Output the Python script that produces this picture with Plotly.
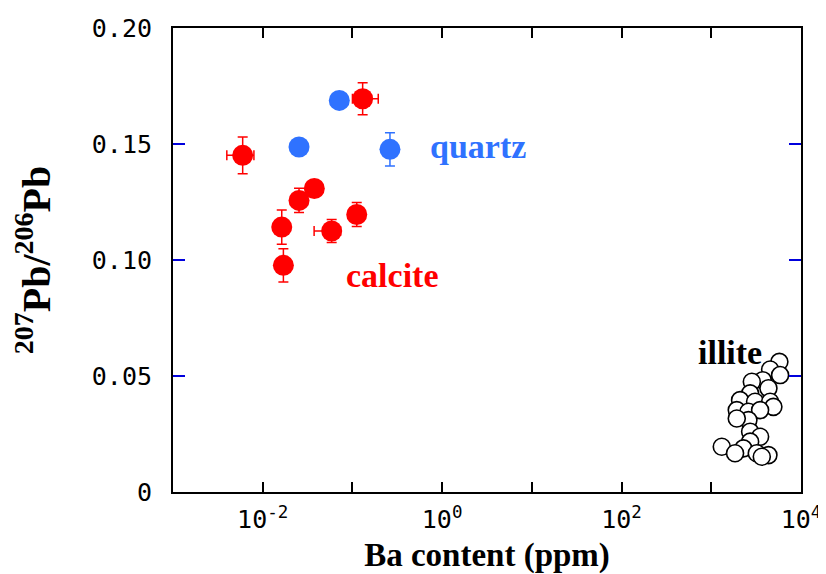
import plotly.graph_objects as go

# calcite (red)
calcite_x = [0.00598, 0.130, 0.0376, 0.0254, 0.0163, 0.0587, 0.1117, 0.0170]
calcite_y = [0.1451, 0.1695, 0.1308, 0.1257, 0.1142, 0.1125, 0.1196, 0.0977]
calcite_yerr = [0.0079, 0.0069, 0.0, 0.0052, 0.0074, 0.0050, 0.0052, 0.0072]
calcite_xerr_plus = [0.002, 0.064, 0.0, 0.0, 0.0, 0.015, 0.0, 0.0]
calcite_xerr_minus = [0.002, 0.03, 0.0, 0.0, 0.0, 0.0213, 0.0, 0.0]

# quartz (blue)
quartz_x = [0.0714, 0.0254, 0.262]
quartz_y = [0.1688, 0.1487, 0.1477]
quartz_yerr = [0.0, 0.0, 0.0072]

# illite (open circles)
illite_x = [5741, 4529, 5848, 3750, 2831, 4335, 2710, 2094, 3077, 4529, 4922, 1924,
            2594, 3500, 2594, 1924, 2710, 3500, 2710, 1309, 2280, 3215, 4335, 3656, 1841]
illite_y = [0.0561, 0.0528, 0.0504, 0.0482, 0.0475, 0.0447, 0.0425, 0.0396, 0.0389,
            0.0389, 0.0367, 0.0353, 0.0346, 0.0353, 0.0310, 0.0317, 0.0260, 0.0238,
            0.0217, 0.0195, 0.0188, 0.0167, 0.0159, 0.0152, 0.0167]

x_tickvals = [1e-3, 1e-2, 1e-1, 1e0, 1e1, 1e2, 1e3, 1e4]
x_ticktext = ["", "10<sup>-2</sup>", "", "10<sup>0</sup>", "", "10<sup>2</sup>", "", "10<sup>4</sup>"]
y_tickvals = [0, 0.05, 0.10, 0.15, 0.20]
y_ticktext = ["0", "0.05", "0.10", "0.15", "0.20"]

RED = "#ff0000"
BLUE = "#2f72ff"

fig = go.Figure()

fig.add_trace(go.Scatter(
    x=illite_x, y=illite_y, mode="markers",
    marker=dict(symbol="circle", size=17, color="white",
                line=dict(color="black", width=1.6)),
    showlegend=False))

fig.add_trace(go.Scatter(
    x=quartz_x, y=quartz_y, mode="markers",
    marker=dict(symbol="circle", size=21, color=BLUE),
    error_y=dict(type="data", array=quartz_yerr, color=BLUE, thickness=1.5, width=5),
    showlegend=False))

fig.add_trace(go.Scatter(
    x=calcite_x, y=calcite_y, mode="markers",
    marker=dict(symbol="circle", size=21, color=RED),
    error_y=dict(type="data", array=calcite_yerr, color=RED, thickness=1.5, width=5),
    error_x=dict(type="data", array=calcite_xerr_plus, arrayminus=calcite_xerr_minus,
                 symmetric=False, color=RED, thickness=1.5, width=5),
    showlegend=False))

serif = "Liberation Serif, Times New Roman, serif"
mono = "DejaVu Sans Mono, monospace"

fig.add_annotation(x=0.40, y=0.149, xref="x", yref="y", text="<b>quartz</b>",
                   showarrow=False, font=dict(family=serif, size=34, color=BLUE))
fig.add_annotation(x=-0.558, y=0.0934, xref="x", yref="y", text="<b>calcite</b>",
                   showarrow=False, font=dict(family=serif, size=34, color=RED))
fig.add_annotation(x=3.21, y=0.0603, xref="x", yref="y", text="<b>illite</b>",
                   showarrow=False, font=dict(family=serif, size=34, color="black"))

fig.update_layout(
    width=818, height=566,
    margin=dict(l=165, r=25, t=20, b=82),
    paper_bgcolor="white", plot_bgcolor="white",
    xaxis=dict(
        type="log", range=[-3, 4], automargin=False,
        tickvals=x_tickvals, ticktext=x_ticktext,
        ticks="inside", ticklen=10, tickwidth=2, tickcolor="black",
        showline=True, linecolor="black", linewidth=2, mirror="ticks",
        showgrid=False, zeroline=False,
        tickfont=dict(family=mono, size=25, color="black"),
        ticklabelstandoff=4,
        title=dict(text="<b>Ba content (ppm)</b>", font=dict(family=serif, size=33, color="black"),
                   standoff=18),
    ),
    yaxis=dict(
        range=[0, 0.2], automargin=False,
        tickvals=y_tickvals, ticktext=y_ticktext,
        ticks="inside", ticklen=12, tickwidth=2, tickcolor="#0000dd",
        showline=True, linecolor="black", linewidth=2, mirror="ticks",
        showgrid=False, zeroline=False,
        tickfont=dict(family=mono, size=25, color="black"),
        ticklabelstandoff=14,
        title=dict(text="<b><sup>207</sup>Pb/<sup>206</sup>Pb</b>",
                   font=dict(family=serif, size=40, color="black"), standoff=30),
    ),
)

fig.write_html("out.html")
